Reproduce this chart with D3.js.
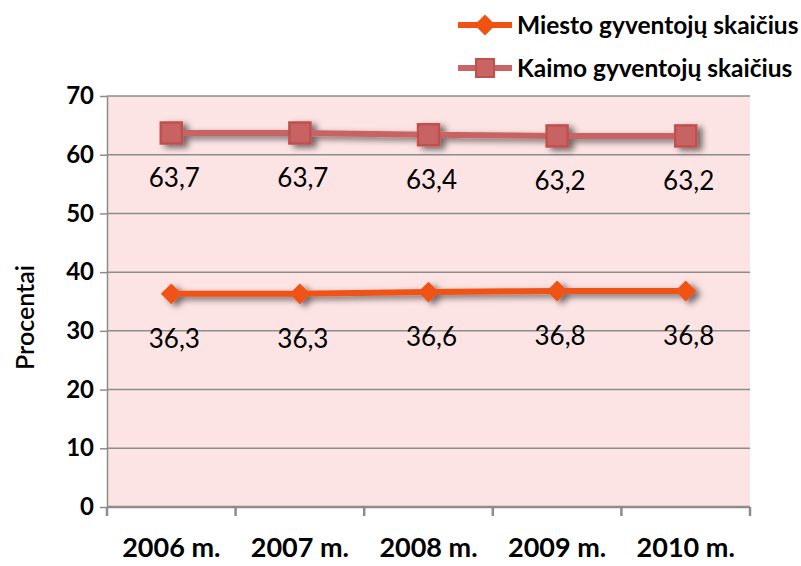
<!DOCTYPE html>
<html><head><meta charset="utf-8">
<script src="https://cdn.jsdelivr.net/npm/d3@7"></script>
<style>body{margin:0;background:#fff}svg{display:block}</style>
</head><body>
<script>
const categories = ["2006 m.","2007 m.","2008 m.","2009 m.","2010 m."];
const miesto = [36.3,36.3,36.6,36.8,36.8];
const kaimo = [63.7,63.7,63.4,63.2,63.2];
const seriesNames = ["Miesto gyventojų skaičius","Kaimo gyventojų skaičius"];
const yTicks = [0,10,20,30,40,50,60,70];
const yTitle = "Procentai";

const W=801,H=566;
const m={l:107,r:51,t:96,b:59};
const FONT="Lato, 'Noto Sans', sans-serif";
const svg=d3.select("body").append("svg").attr("width",W).attr("height",H);
const defs=svg.append("defs");
const f=defs.append("filter").attr("id","sh").attr("x","-50%").attr("y","-50%").attr("width","200%").attr("height","200%");
f.append("feDropShadow").attr("dx",5).attr("dy",3).attr("stdDeviation",3).attr("flood-color","#000").attr("flood-opacity",0.55);

const x=d3.scaleBand().domain(categories).range([m.l,W-m.r]).padding(0);
const y=d3.scaleLinear().domain([0,70]).range([H-m.b,m.t]);

svg.append("rect").attr("x",m.l).attr("y",m.t).attr("width",W-m.r-m.l).attr("height",H-m.b-m.t).attr("fill","#fde4e4");

// y axis
const ya=svg.append("g").attr("transform",`translate(${m.l},0)`)
 .call(d3.axisLeft(y).tickValues(yTicks).tickSize(7).tickSizeOuter(0).tickPadding(6));
ya.select(".domain").attr("stroke","#8c8c8c").attr("stroke-width",1.5);
ya.selectAll(".tick line").attr("stroke","#8c8c8c").attr("stroke-width",1.5);
ya.selectAll(".tick text").attr("font-family",FONT).attr("font-size",24).attr("font-weight","bold").attr("fill","#000");
// gridlines
svg.append("g").selectAll("line").data(yTicks.filter(d=>d>0)).join("line")
 .attr("x1",m.l).attr("x2",W-m.r).attr("y1",d=>y(d)).attr("y2",d=>y(d))
 .attr("stroke","#8c8c8c").attr("stroke-width",1.5);

// x axis
const xa=svg.append("g").attr("transform",`translate(0,${H-m.b})`)
 .call(d3.axisBottom(x).tickSize(0).tickPadding(31));
xa.select(".domain").remove();
xa.selectAll(".tick text").attr("font-family",FONT).attr("font-size",27).attr("font-weight","bold").attr("fill","#000");
const bounds=[x(categories[0])].concat(categories.map(c=>x(c)+x.bandwidth()));
svg.append("line").attr("x1",m.l).attr("x2",W-m.r).attr("y1",y(0)).attr("y2",y(0)).attr("stroke","#8c8c8c").attr("stroke-width",2.5);
svg.append("g").selectAll("line").data(bounds).join("line")
 .attr("x1",d=>d).attr("x2",d=>d).attr("y1",y(0)).attr("y2",y(0)+9).attr("stroke","#8c8c8c").attr("stroke-width",2.5);

// y title
svg.append("text").attr("transform",`translate(34,${(m.t+H-m.b)/2+16}) rotate(-90)`)
 .attr("text-anchor","middle").attr("font-family",FONT).attr("font-size",25).attr("font-weight","600").text(yTitle);

const cx=c=>x(c)+x.bandwidth()/2;
const line=d3.line().x((d,i)=>cx(categories[i])).y(d=>y(d));
const diamond=d3.symbol().type(d3.symbolDiamond2).size(280);

// Kaimo
const gk=svg.append("g").attr("filter","url(#sh)");
gk.append("path").datum(kaimo).attr("d",line).attr("fill","none").attr("stroke","#c86464").attr("stroke-width",6);
gk.selectAll("rect").data(kaimo).join("rect")
 .attr("x",(d,i)=>cx(categories[i])-10.5).attr("y",d=>y(d)-10.5).attr("width",21).attr("height",21)
 .attr("fill","#c86464").attr("stroke","#c0504d").attr("stroke-width",2.5);
// Miesto
const gm=svg.append("g").attr("filter","url(#sh)");
gm.append("path").datum(miesto).attr("d",line).attr("fill","none").attr("stroke","#f05214").attr("stroke-width",6);
gm.selectAll("path.mk").data(miesto).join("path").attr("class","mk")
 .attr("transform",(d,i)=>`translate(${cx(categories[i])},${y(d)})`)
 .attr("d",diamond).attr("fill","#f05214");

// labels
const fmt=v=>String(v).replace(".",",");
[kaimo,miesto].forEach(s=>{
 svg.append("g").selectAll("text").data(s).join("text")
  .attr("x",(d,i)=>cx(categories[i])+3).attr("y",d=>y(d)+54)
  .attr("text-anchor","middle").attr("font-family",FONT).attr("font-size",26).attr("fill","#000").text(fmt);
});

// legend
const lg=svg.append("g");
[0,1].forEach(i=>{
 const yy=i===0?25:68;
 lg.append("line").attr("x1",458).attr("x2",512).attr("y1",yy).attr("y2",yy)
  .attr("stroke",i===0?"#f05214":"#c86464").attr("stroke-width",6);
 if(i===0) lg.append("path").attr("transform",`translate(485,${yy})`).attr("d",diamond).attr("fill","#f05214");
 else lg.append("rect").attr("x",476).attr("y",yy-9).attr("width",18).attr("height",18).attr("fill","#c86464").attr("stroke","#c0504d").attr("stroke-width",2);
 lg.append("text").attr("x",517).attr("y",yy).attr("dy","0.35em").attr("font-family",FONT).attr("font-size",24.5).attr("font-weight","bold").text(seriesNames[i]);
});
</script>
</body></html>
